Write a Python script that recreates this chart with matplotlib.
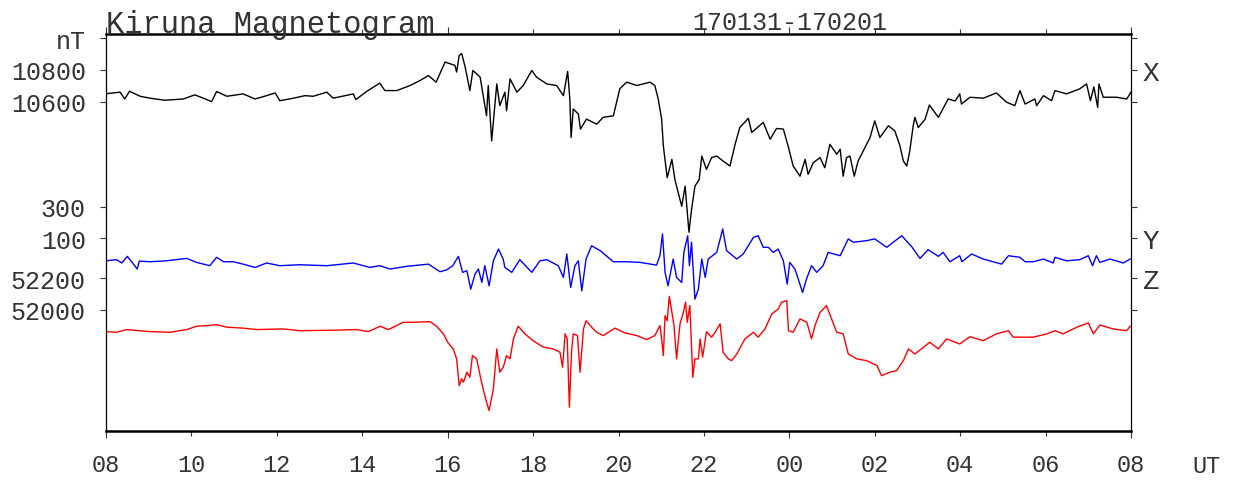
import matplotlib.pyplot as plt

# magnetogram Kiruna 2017-01-31 08 UT -> 2017-02-01 08 UT
# time axis: hours after 08 UT

x_hours = [0.00, 0.33, 0.44, 0.55, 0.80, 1.03, 1.38, 1.81, 2.08, 2.28,
           2.47, 2.59, 2.83, 3.21, 3.49, 3.76, 3.96, 4.07, 4.39, 4.66,
           4.85, 5.17, 5.32, 5.79, 5.85, 6.10, 6.41, 6.53, 6.81, 7.12,
           7.35, 7.55, 7.73, 7.94, 8.17, 8.21, 8.27, 8.33, 8.41, 8.52,
           8.59, 8.76, 8.91, 8.95, 9.03, 9.15, 9.22, 9.34, 9.38, 9.46,
           9.62, 9.77, 9.97, 10.08, 10.32, 10.55, 10.71, 10.81, 10.86, 10.89,
           10.94, 11.06, 11.11, 11.25, 11.49, 11.64, 11.88, 12.03, 12.19, 12.43,
           12.74, 12.85, 12.93, 13.01, 13.05, 13.14, 13.25, 13.32, 13.40, 13.48,
           13.56, 13.65, 13.71, 13.79, 13.89, 13.95, 14.06, 14.18, 14.30, 14.45,
           14.61, 14.73, 14.84, 15.04, 15.12, 15.39, 15.55, 15.70, 15.86, 15.97,
           16.09, 16.25, 16.37, 16.44, 16.56, 16.72, 16.83, 16.95, 17.11, 17.19,
           17.26, 17.34, 17.42, 17.52, 17.61, 17.73, 17.89, 18.00, 18.12, 18.32,
           18.47, 18.59, 18.67, 18.75, 18.82, 18.90, 18.94, 19.02, 19.18, 19.28,
           19.49, 19.72, 19.88, 19.99, 20.03, 20.23, 20.54, 20.85, 21.09, 21.28,
           21.40, 21.52, 21.75, 21.79, 21.95, 22.14, 22.22, 22.49, 22.80, 22.96,
           23.05, 23.13, 23.22, 23.25, 23.35, 23.66, 23.90, 24.00]
x_nt = [10650, 10660, 10617, 10666, 10634, 10622, 10609, 10617, 10643, 10622,
        10600, 10664, 10634, 10649, 10617, 10638, 10655, 10606, 10622, 10638,
        10634, 10660, 10622, 10649, 10613, 10664, 10717, 10670, 10670, 10702,
        10733, 10765, 10723, 10850, 10829, 10787, 10892, 10903, 10818, 10670,
        10797, 10755, 10511, 10702, 10352, 10712, 10575, 10660, 10543, 10744,
        10660, 10702, 10797, 10755, 10712, 10702, 10638, 10791, 10617, 10374,
        10554, 10522, 10427, 10490, 10458, 10501, 10511, 10681, 10723, 10702,
        10723, 10702, 10617, 10490, 10321, 10120, 10236, 10109, 10025, 9940,
        10067, 9776, 9919, 10067, 10109, 10257, 10173, 10247, 10257, 10225,
        10194, 10331, 10437, 10495, 10406, 10469, 10363, 10431, 10427, 10321,
        10194, 10130, 10236, 10141, 10215, 10247, 10183, 10331, 10268, 10300,
        10130, 10247, 10257, 10130, 10225, 10289, 10374, 10479, 10374, 10448,
        10416, 10321, 10225, 10194, 10289, 10448, 10501, 10437, 10490, 10579,
        10501, 10617, 10604, 10649, 10585, 10628, 10622, 10655, 10596, 10575,
        10670, 10585, 10617, 10575, 10638, 10606, 10670, 10649, 10681, 10712,
        10606, 10693, 10564, 10712, 10628, 10628, 10617, 10660]

y_hours = [0.00, 0.25, 0.37, 0.50, 0.60, 0.73, 0.78, 1.03, 1.42, 1.89,
           2.12, 2.43, 2.59, 2.75, 2.98, 3.21, 3.49, 3.76, 4.07, 4.54,
           5.17, 5.79, 6.18, 6.41, 6.65, 7.04, 7.55, 7.82, 7.98, 8.12,
           8.25, 8.35, 8.45, 8.54, 8.64, 8.72, 8.80, 8.87, 8.97, 9.07,
           9.19, 9.30, 9.34, 9.50, 9.69, 9.97, 10.16, 10.32, 10.59, 10.71,
           10.79, 10.88, 10.98, 11.06, 11.14, 11.24, 11.37, 11.57, 11.88, 12.19,
           12.50, 12.89, 12.97, 13.03, 13.09, 13.16, 13.28, 13.36, 13.48, 13.53,
           13.62, 13.66, 13.71, 13.79, 13.87, 13.95, 14.03, 14.10, 14.30, 14.44,
           14.53, 14.77, 14.92, 15.16, 15.27, 15.39, 15.51, 15.62, 15.74, 15.86,
           15.95, 16.01, 16.13, 16.21, 16.31, 16.40, 16.52, 16.64, 16.79, 16.91,
           17.19, 17.38, 17.50, 17.81, 18.00, 18.28, 18.63, 18.86, 19.06, 19.25,
           19.49, 19.60, 19.76, 19.99, 20.04, 20.27, 20.54, 20.97, 21.13, 21.40,
           21.52, 21.71, 21.95, 22.18, 22.22, 22.49, 22.80, 23.00, 23.10, 23.19,
           23.27, 23.51, 23.82, 23.98]
y_nt = [-42, -35, -56, -14, -48, -94, -44, -48, -42, -27,
        -52, -73, -20, -48, -48, -63, -84, -56, -73, -67,
        -73, -56, -84, -73, -94, -77, -63, -111, -99, -73,
        -14, -115, -105, -221, -126, -94, -179, -73, -200, -42,
        32, -31, -84, -115, -35, -115, -42, -35, -73, -147,
        1, -210, -73, -42, -232, -31, 53, 22, -48, -48,
        -52, -69, -10, 127, -115, -200, -31, -147, -179, 11,
        116, -73, 75, -284, -221, -31, -147, -31, 11, 159,
        22, -31, 1, 106, 116, 43, 43, 11, 32, -42,
        -189, -52, -94, -158, -242, -158, -73, -115, -73, 11,
        -10, 96, 75, 85, 96, 43, 116, 49, -27, 28,
        -14, 11, -48, -10, -48, 1, -31, -63, -10, -20,
        -48, -48, -31, -56, -20, -42, -35, -10, -73, -10,
        -52, -31, -56, -31]

z_hours = [0.00, 0.25, 0.48, 1.03, 1.50, 1.89, 2.12, 2.36, 2.59, 2.83,
           3.21, 3.53, 4.15, 4.54, 5.32, 5.87, 6.14, 6.42, 6.61, 6.96,
           7.19, 7.59, 7.74, 7.90, 8.01, 8.13, 8.21, 8.27, 8.33, 8.37,
           8.45, 8.52, 8.58, 8.68, 8.76, 8.83, 8.91, 8.97, 9.07, 9.15,
           9.22, 9.30, 9.38, 9.46, 9.54, 9.65, 9.81, 10.00, 10.24, 10.47,
           10.63, 10.69, 10.75, 10.80, 10.85, 10.90, 10.94, 11.04, 11.10, 11.18,
           11.24, 11.37, 11.49, 11.64, 11.92, 12.15, 12.43, 12.66, 12.85, 12.93,
           12.97, 13.01, 13.05, 13.09, 13.14, 13.19, 13.25, 13.30, 13.36, 13.44,
           13.52, 13.57, 13.61, 13.67, 13.74, 13.79, 13.87, 13.91, 13.97, 14.06,
           14.18, 14.26, 14.38, 14.45, 14.57, 14.65, 14.77, 14.96, 15.16, 15.27,
           15.43, 15.59, 15.74, 15.82, 15.94, 15.98, 16.09, 16.25, 16.41, 16.52,
           16.60, 16.72, 16.87, 16.99, 17.11, 17.26, 17.38, 17.58, 17.81, 18.05,
           18.16, 18.36, 18.51, 18.67, 18.79, 18.94, 19.29, 19.49, 19.68, 19.99,
           20.23, 20.54, 20.85, 21.13, 21.24, 21.71, 22.03, 22.22, 22.41, 22.73,
           23.00, 23.12, 23.27, 23.58, 23.90, 23.98]
z_nt = [51863, 51859, 51876, 51863, 51859, 51876, 51897, 51901, 51907, 51891,
        51885, 51876, 51880, 51869, 51872, 51876, 51863, 51897, 51876, 51922,
        51922, 51926, 51897, 51849, 51792, 51754, 51691, 51522, 51565, 51544,
        51607, 51575, 51712, 51691, 51585, 51501, 51418, 51365, 51501, 51754,
        51607, 51638, 51712, 51691, 51817, 51897, 51849, 51806, 51765, 51754,
        51733, 51638, 51849, 51817, 51386, 51735, 51849, 51838, 51607, 51880,
        51932, 51891, 51859, 51838, 51885, 51855, 51838, 51813, 51838, 51880,
        51901, 51817, 51712, 51964, 51932, 52086, 51985, 51901, 51691, 51912,
        51985, 52049, 51922, 52027, 51575, 51691, 51691, 51817, 51702, 51863,
        51828, 51859, 51912, 51733, 51691, 51680, 51722, 51817, 51859, 51828,
        51880, 51975, 52006, 52049, 52059, 51869, 51859, 51943, 51922, 51817,
        51901, 51985, 52027, 51943, 51859, 51849, 51722, 51691, 51680, 51649,
        51585, 51607, 51617, 51680, 51754, 51722, 51796, 51754, 51817, 51785,
        51831, 51806, 51849, 51869, 51828, 51828, 51849, 51869, 51849, 51891,
        51918, 51849, 51905, 51880, 51869, 51897]

hour_labels = ['08', '10', '12', '14', '16', '18', '20', '22',
               '00', '02', '04', '06', '08']

# the three components share one nT scale, Y and Z are shifted onto it
Y_OFF = 9638
Z_OFF = -42714

FONT = 'Liberation Mono'
GREY = '#333333'

fig = plt.figure(figsize=(12.33, 4.81), dpi=100)
ax = fig.add_axes([106 / 1233, 1 - 432 / 481, 1025 / 1233, 397 / 481])

ax.plot(x_hours, x_nt, color='black', lw=1.0)
ax.plot(y_hours, [v + Y_OFF for v in y_nt], color='#0000ff', lw=1.0)
ax.plot(z_hours, [v + Z_OFF for v in z_nt], color='#ff0000', lw=1.0)

ax.set_xlim(0, 24)
ax.set_ylim(8522, 11027)

# y ticks: X, Y and Z levels
ytick_pos = [11000, 10800, 10600, 300 + Y_OFF, 100 + Y_OFF,
             52200 + Z_OFF, 52000 + Z_OFF]
ax.set_yticks(ytick_pos)
ax.set_yticklabels(['nT', '10800', '10600', '300', '100', '52200', '52000'],
                   fontfamily=FONT, fontsize=18, color=GREY)
ax.tick_params(axis='y', direction='out', length=4.5, width=0.8,
               color=GREY, pad=10)

right = ax.twinx()
right.set_ylim(ax.get_ylim())
right.set_yticks(ytick_pos)
right.set_yticklabels(['', 'X', '', '', 'Y', 'Z', ''],
                      fontfamily=FONT, fontsize=20, color=GREY)
right.tick_params(axis='y', direction='out', length=4.5, width=0.8,
                  color=GREY, pad=4)

# every 2 hours a labelled tick, every 8 hours a longer one
two_h = list(range(0, 25, 2))
ax.set_xticks([0, 8, 16, 24])
ax.set_xticklabels(['08', '16', '00', '08'], fontfamily=FONT,
                   fontsize=17, color=GREY)
ax.set_xticks([h for h in two_h if h % 8], minor=True)
ax.set_xticklabels([hour_labels[i] for i, h in enumerate(two_h) if h % 8],
                   minor=True, fontfamily=FONT, fontsize=17, color=GREY)
ax.tick_params(axis='x', which='major', direction='out', length=5,
               width=0.8, color=GREY, pad=10.5, top=True)
ax.tick_params(axis='x', which='minor', direction='out', length=3.5,
               width=0.8, color=GREY, pad=12, top=True)

for s in ('top', 'bottom'):
    ax.spines[s].set_linewidth(1.8)
for s in ('left', 'right'):
    ax.spines[s].set_linewidth(0.9)
for s in right.spines.values():
    s.set_visible(False)

fig.text(106 / 1233, 1 - 33 / 481, 'Kiruna Magnetogram', fontfamily=FONT,
         fontsize=22, color=GREY, ha='left', va='baseline')
fig.text(692 / 1233, 1 - 30 / 481, '170131-170201', fontfamily=FONT,
         fontsize=18, color=GREY, ha='left', va='baseline')
fig.text(1206 / 1233, 1 - 467 / 481, 'UT', fontfamily=FONT,
         fontsize=17, color=GREY, ha='center', va='center')

fig.savefig('out.png', dpi=100)
